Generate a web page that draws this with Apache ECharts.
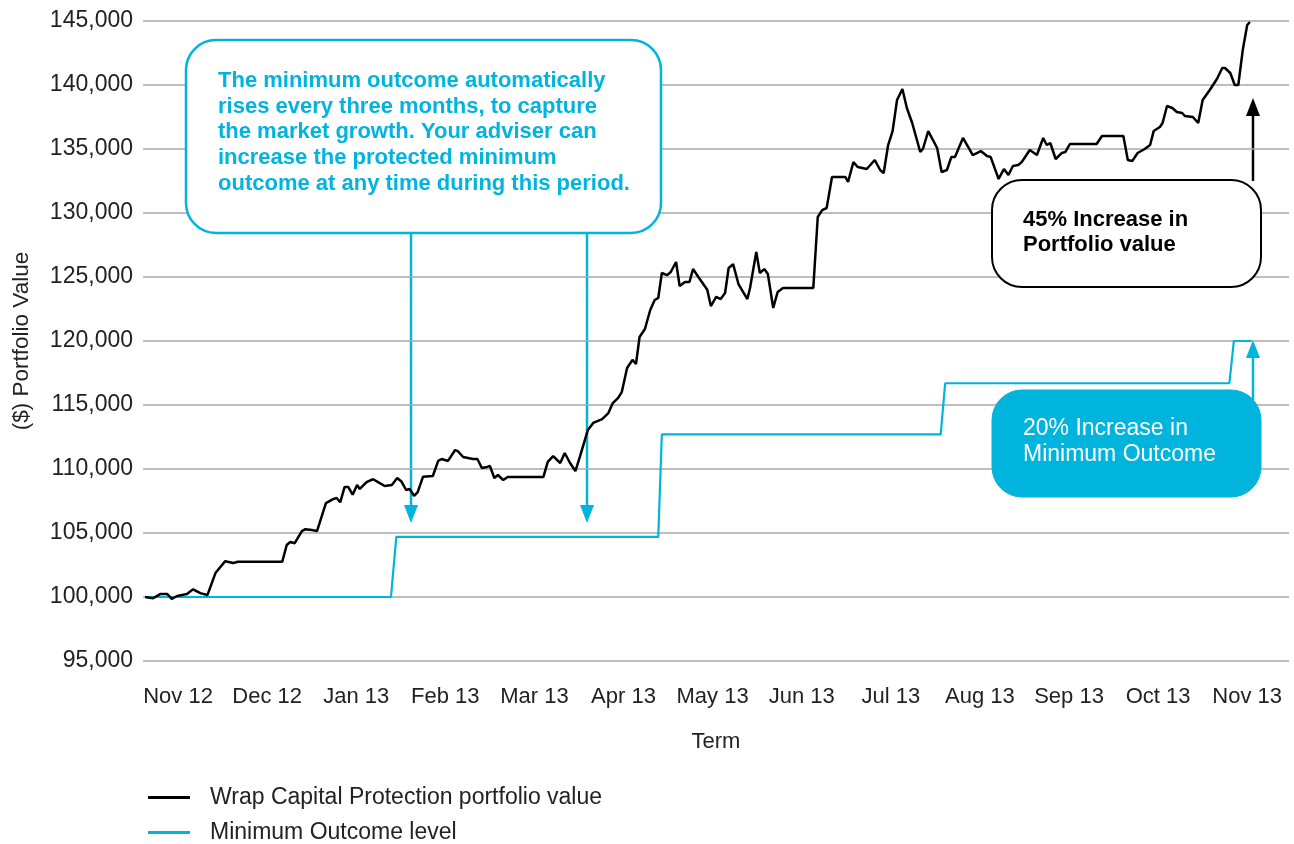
<!DOCTYPE html>
<html>
<head>
<meta charset="utf-8">
<script src="https://cdn.jsdelivr.net/npm/echarts@6/dist/echarts.min.js"></script>
<style>
html,body{margin:0;padding:0;background:#fff;}
#chart{width:1294px;height:844px;}
</style>
</head>
<body>
<div id="chart"></div>
<script>
// x positions are in months since "Nov 12" (label 0 = Nov 12, label 12 = Nov 13)
const monthLabels = ['Nov 12','Dec 12','Jan 13','Feb 13','Mar 13','Apr 13','May 13','Jun 13','Jul 13','Aug 13','Sep 13','Oct 13','Nov 13'];

const portfolioMonths = [-0.37,-0.28,-0.20,-0.12,-0.07,-0.01,0.10,0.17,0.25,0.33,0.42,0.53,0.62,0.67,1.17,1.22,1.26,1.31,1.39,1.43,1.50,1.56,1.66,1.74,1.78,1.82,1.87,1.91,1.96,2.01,2.04,2.12,2.19,2.24,2.32,2.40,2.46,2.51,2.56,2.60,2.65,2.69,2.75,2.86,2.92,2.96,3.03,3.11,3.14,3.20,3.31,3.36,3.41,3.47,3.50,3.55,3.59,3.65,3.70,4.10,4.15,4.21,4.29,4.34,4.40,4.46,4.51,4.60,4.66,4.76,4.83,4.88,4.94,4.98,5.04,5.10,5.14,5.18,5.24,5.30,5.35,5.39,5.43,5.49,5.53,5.59,5.63,5.69,5.74,5.78,5.84,5.94,5.98,6.04,6.09,6.14,6.18,6.23,6.29,6.39,6.42,6.49,6.53,6.58,6.62,6.68,6.73,6.79,7.13,7.18,7.23,7.28,7.34,7.49,7.52,7.58,7.63,7.73,7.82,7.88,7.92,7.97,8.02,8.07,8.13,8.18,8.24,8.33,8.36,8.42,8.52,8.57,8.63,8.68,8.72,8.81,8.92,9.01,9.08,9.12,9.21,9.27,9.32,9.37,9.43,9.47,9.56,9.64,9.71,9.75,9.79,9.85,9.92,9.96,10.01,10.31,10.37,10.61,10.66,10.71,10.77,10.85,10.91,10.95,11.02,11.05,11.10,11.16,11.21,11.27,11.30,11.39,11.45,11.50,11.58,11.66,11.72,11.75,11.81,11.86,11.90,11.95,12.00,12.03];
const portfolioValues = [100000,99900,100230,100230,99850,100080,100230,100600,100300,100150,101870,102800,102650,102750,102750,104060,104300,104200,105150,105300,105230,105150,107340,107650,107730,107400,108600,108600,108000,108750,108440,109000,109200,109000,108670,108750,109300,109000,108360,108440,107900,108200,109400,109450,110630,110780,110630,111480,111400,110940,110780,110780,110080,110160,110240,109300,109530,109140,109370,109370,110550,111000,110470,111250,110470,109840,110940,113050,113600,113900,114370,115150,115550,116000,117890,118520,118200,120310,120940,122420,123200,123360,125310,125150,125390,126170,124300,124610,124610,125620,125000,124000,122730,123440,123280,123750,125700,126000,124450,123280,124140,126950,125310,125620,125230,122580,123830,124140,124140,129690,130230,130390,132810,132810,132420,133980,133590,133440,134140,133360,133120,135310,136400,138830,139690,138200,137030,134770,135000,136400,135080,133200,133360,134380,134380,135860,134530,134840,134450,134380,132660,133440,132970,133670,133750,133980,134920,134530,135860,135310,135470,134220,134690,134770,135390,135390,136020,136020,134140,134060,134690,135000,135310,136400,136720,137030,138360,138200,137890,137810,137580,137500,137030,138830,139610,140470,141330,141330,140940,140000,140000,142730,144690,144920];

const minimumMonths = [-0.37,2.39,2.45,5.39,5.43,8.56,8.61,11.80,11.85,12.05];
const minimumValues = [100000,100000,104700,104700,112700,112700,116700,116700,120000,120000];

const seriesNames = ['Wrap Capital Protection portfolio value','Minimum Outcome level'];
const calloutText = ['The minimum outcome automatically','rises every three months, to capture','the market growth. Your adviser can','increase the protected minimum','outcome at any time during this period.'];
const portfolioNote = ['45% Increase in','Portfolio value'];
const minimumNote = ['20% Increase in','Minimum Outcome'];

const BLUE = '#00b4de';
const FONT = '"Liberation Sans", Arial, Helvetica, sans-serif';

const zip = (xs, ys) => xs.map((x, i) => [x, ys[i]]);

const chart = echarts.init(document.getElementById('chart'), null, {renderer: 'canvas'});

const arrow = (x, y1, y2, color) => {
  const dir = y2 > y1 ? 1 : -1;
  const headLen = 18, headHalf = 7;
  return {
    type: 'group', silent: true, z: 100,
    children: [
      {type: 'line', shape: {x1: x, y1: y1, x2: x, y2: y2 - dir * headLen}, style: {stroke: color, lineWidth: 2.5}},
      {type: 'polygon', shape: {points: [[x - headHalf, y2 - dir * headLen], [x + headHalf, y2 - dir * headLen], [x, y2]]}, style: {fill: color}}
    ]
  };
};

const legendBase = {
  orient: 'horizontal',
  left: 148,
  padding: 0,
  itemWidth: 42,
  itemHeight: 3,
  icon: 'rect',
  selectedMode: false,
  textStyle: {color: '#222', fontFamily: FONT, fontSize: 23, padding: [0, 0, 0, 15]}
};

const option = {
  animation: false,
  backgroundColor: '#fff',
  grid: {left: 143, right: 5, top: 21, bottom: 183, containLabel: false},
  xAxis: {
    type: 'value',
    min: -0.393,
    max: 12.469,
    axisLine: {show: false},
    axisTick: {show: false},
    splitLine: {show: false},
    axisLabel: {
      customValues: monthLabels.map((_, i) => i),
      formatter: v => monthLabels[Math.round(v)],
      color: '#222',
      fontFamily: FONT,
      fontSize: 22,
      margin: 25
    },
    name: 'Term',
    nameLocation: 'middle',
    nameGap: 70,
    nameTextStyle: {color: '#222', fontFamily: FONT, fontSize: 22}
  },
  yAxis: {
    type: 'value',
    min: 95000,
    max: 145000,
    interval: 5000,
    axisLine: {show: false},
    axisTick: {show: false},
    splitLine: {show: true, lineStyle: {color: '#a8a8a8', width: 1.5}},
    axisLabel: {
      formatter: v => v.toLocaleString('en-US'),
      color: '#222',
      fontFamily: FONT,
      fontSize: 23,
      margin: 10
    },
    name: '($) Portfolio Value',
    nameLocation: 'middle',
    nameGap: 110,
    nameTextStyle: {color: '#222', fontFamily: FONT, fontSize: 22.5}
  },
  legend: [
    Object.assign({}, legendBase, {top: 786, data: [seriesNames[0]]}),
    Object.assign({}, legendBase, {top: 821, data: [seriesNames[1]]})
  ],
  series: [
    {
      name: seriesNames[0],
      type: 'line',
      data: zip(portfolioMonths, portfolioValues),
      symbol: 'none',
      lineStyle: {color: '#000', width: 2.5},
      itemStyle: {color: '#000'},
      z: 3
    },
    {
      name: seriesNames[1],
      type: 'line',
      data: zip(minimumMonths, minimumValues),
      symbol: 'none',
      lineStyle: {color: BLUE, width: 2.2},
      itemStyle: {color: BLUE},
      z: 2
    }
  ],
  graphic: [
    arrow(411, 233, 523, BLUE),
    arrow(587, 233, 523, BLUE),
    {
      type: 'rect', z: 101, silent: true,
      shape: {x: 186, y: 40, width: 475, height: 193, r: 30},
      style: {fill: '#fff', stroke: BLUE, lineWidth: 2.5}
    },
    {
      type: 'text', z: 102, silent: true, left: 218, top: 68,
      style: {text: calloutText.join('\n'), fill: BLUE, font: 'bold 22px ' + FONT, lineHeight: 25.7}
    },
    arrow(1253, 181, 98, '#000'),
    {
      type: 'rect', z: 101, silent: true,
      shape: {x: 992, y: 180, width: 269, height: 107, r: 30},
      style: {fill: '#fff', stroke: '#000', lineWidth: 2}
    },
    {
      type: 'text', z: 102, silent: true, left: 1023, top: 207,
      style: {text: portfolioNote.join('\n'), fill: '#000', font: 'bold 22px ' + FONT, lineHeight: 25.5}
    },
    arrow(1253, 400, 340, BLUE),
    {
      type: 'rect', z: 101, silent: true,
      shape: {x: 992, y: 390, width: 269, height: 107, r: 30},
      style: {fill: BLUE, stroke: BLUE, lineWidth: 1}
    },
    {
      type: 'text', z: 102, silent: true, left: 1023, top: 416,
      style: {text: minimumNote.join('\n'), fill: '#fff', font: '23px ' + FONT, lineHeight: 25.5}
    }
  ]
};

chart.setOption(option);
</script>
</body>
</html>
